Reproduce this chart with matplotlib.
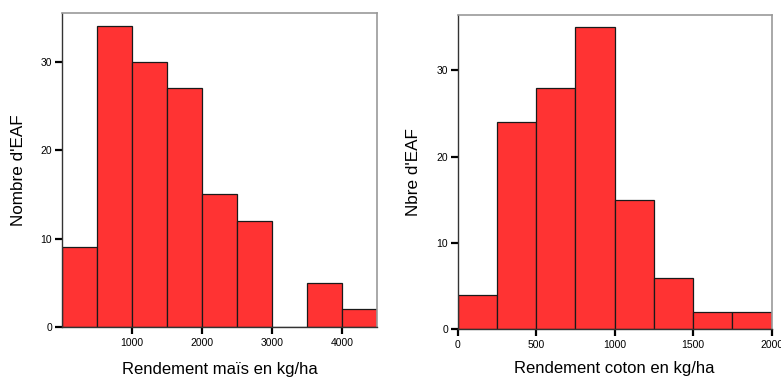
import matplotlib
matplotlib.use("Agg")
import matplotlib.pyplot as plt
import numpy as np

plt.rcParams['font.family'] = ['Liberation Sans', 'DejaVu Sans']

# Maize yield histogram (kg/ha), bins of 500
mais_edges = [0, 500, 1000, 1500, 2000, 2500, 3000, 3500, 4000, 4500]
mais_counts = [9, 34, 30, 27, 15, 12, 0, 5, 2]
mais_ticks = [1000, 2000, 3000, 4000]

# Cotton yield histogram (kg/ha), bins of 250
coton_edges = [0, 250, 500, 750, 1000, 1250, 1500, 1750, 2000]
coton_counts = [4, 24, 28, 35, 15, 6, 2, 2]
coton_ticks = [0, 500, 1000, 1500, 2000]

y_ticks = [0, 10, 20, 30]

fill = '#FF3333'
edge = '#1a1a1a'

fig = plt.figure(figsize=(7.81, 3.78), dpi=100)
ax1 = fig.add_axes([0.0794, 0.1349, 0.4033, 0.8307])
ax2 = fig.add_axes([0.586, 0.1288, 0.402, 0.8315])


def draw(ax, edges, counts, xticks, ylim, xlabel, ylabel, xlabel_y, ylabel_x):
    edges = np.asarray(edges, dtype=float)
    ax.bar(edges[:-1], counts, width=np.diff(edges), align='edge',
           color=fill, edgecolor=edge, linewidth=0.9, zorder=2)
    ax.set_xlim(edges[0], edges[-1])
    ax.set_ylim(0, ylim)
    ax.set_xticks(xticks)
    ax.set_yticks(y_ticks)
    ax.tick_params(axis='both', direction='out', length=5, width=1.6,
                   labelsize=7.5, color='black', pad=2)
    ax.tick_params(axis='x', pad=3)
    for s in ('top', 'right'):
        ax.spines[s].set_color('#999999')
        ax.spines[s].set_linewidth(1.2)
    for s in ('left', 'bottom'):
        ax.spines[s].set_color('#333333')
        ax.spines[s].set_linewidth(1.0)
    ax.set_xlabel(xlabel, fontsize=12)
    ax.set_ylabel(ylabel, fontsize=12.3)
    # place axis labels at fixed positions relative to the axes
    ax.xaxis.set_label_coords(0.5, xlabel_y)
    ax.yaxis.set_label_coords(ylabel_x, 0.5)


draw(ax1, mais_edges, mais_counts, mais_ticks, 35.5,
     "Rendement maïs en kg/ha", "Nombre d'EAF", -0.11, -0.114)
draw(ax2, coton_edges, coton_counts, coton_ticks, 36.4,
     "Rendement coton en kg/ha", "Nbre d'EAF", -0.102, -0.117)

fig.savefig('out.png', dpi=100)
